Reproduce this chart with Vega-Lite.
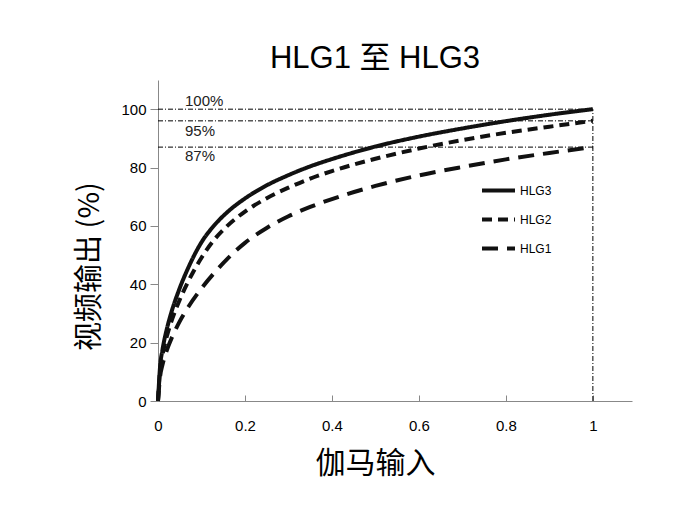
{
  "$schema": "https://vega.github.io/schema/vega-lite/v6.json",
  "autosize": {"type": "none"},
  "padding": {"left": 158, "top": 80, "right": 58, "bottom": 107},
  "width": 474,
  "height": 321,
  "background": "white",
  "title": {
    "text": "HLG1 至 HLG3",
    "font": "Liberation Sans, Noto Sans CJK SC",
    "fontSize": 31,
    "fontWeight": "normal",
    "color": "#000",
    "anchor": "middle",
    "frame": "group",
    "dx": -20,
    "offset": 5
  },
  "config": {
    "view": {"stroke": null},
    "font": "Liberation Sans, Noto Sans CJK SC",
    "axis": {
      "grid": false,
      "domainColor": "#888",
      "tickColor": "#888",
      "labelFont": "Liberation Sans",
      "labelFontSize": 15,
      "labelColor": "#000",
      "labelFlush": false,
      "titleFont": "Noto Sans CJK SC",
      "titleFontWeight": "normal",
      "titleColor": "#000"
    }
  },
  "datasets": {
    "curves": [
      {"x": 0, "y": 0, "series": "HLG3"},
      {"x": 0.005, "y": 12.2, "series": "HLG3"},
      {"x": 0.01, "y": 17.3, "series": "HLG3"},
      {"x": 0.02, "y": 24.5, "series": "HLG3"},
      {"x": 0.03, "y": 30.0, "series": "HLG3"},
      {"x": 0.05, "y": 38.7, "series": "HLG3"},
      {"x": 0.07, "y": 45.8, "series": "HLG3"},
      {"x": 0.1, "y": 54.4, "series": "HLG3"},
      {"x": 0.13, "y": 60.3, "series": "HLG3"},
      {"x": 0.16, "y": 64.8, "series": "HLG3"},
      {"x": 0.2, "y": 69.4, "series": "HLG3"},
      {"x": 0.25, "y": 73.9, "series": "HLG3"},
      {"x": 0.3, "y": 77.4, "series": "HLG3"},
      {"x": 0.35, "y": 80.4, "series": "HLG3"},
      {"x": 0.4, "y": 82.9, "series": "HLG3"},
      {"x": 0.5, "y": 87.2, "series": "HLG3"},
      {"x": 0.6, "y": 90.6, "series": "HLG3"},
      {"x": 0.7, "y": 93.4, "series": "HLG3"},
      {"x": 0.8, "y": 95.9, "series": "HLG3"},
      {"x": 0.9, "y": 98.1, "series": "HLG3"},
      {"x": 1.0, "y": 100.0, "series": "HLG3"},
      {"x": 0, "y": 0, "series": "HLG2"},
      {"x": 0.005, "y": 11.0, "series": "HLG2"},
      {"x": 0.01, "y": 15.5, "series": "HLG2"},
      {"x": 0.02, "y": 22.0, "series": "HLG2"},
      {"x": 0.03, "y": 26.9, "series": "HLG2"},
      {"x": 0.05, "y": 34.7, "series": "HLG2"},
      {"x": 0.07, "y": 41.1, "series": "HLG2"},
      {"x": 0.1, "y": 49.1, "series": "HLG2"},
      {"x": 0.13, "y": 55.4, "series": "HLG2"},
      {"x": 0.16, "y": 60.1, "series": "HLG2"},
      {"x": 0.2, "y": 64.9, "series": "HLG2"},
      {"x": 0.25, "y": 69.5, "series": "HLG2"},
      {"x": 0.3, "y": 73.1, "series": "HLG2"},
      {"x": 0.35, "y": 76.2, "series": "HLG2"},
      {"x": 0.4, "y": 78.8, "series": "HLG2"},
      {"x": 0.5, "y": 83.0, "series": "HLG2"},
      {"x": 0.6, "y": 86.5, "series": "HLG2"},
      {"x": 0.7, "y": 89.4, "series": "HLG2"},
      {"x": 0.8, "y": 91.9, "series": "HLG2"},
      {"x": 0.9, "y": 94.0, "series": "HLG2"},
      {"x": 1.0, "y": 96.0, "series": "HLG2"},
      {"x": 0, "y": 0, "series": "HLG1"},
      {"x": 0.005, "y": 8.6, "series": "HLG1"},
      {"x": 0.01, "y": 12.2, "series": "HLG1"},
      {"x": 0.02, "y": 17.3, "series": "HLG1"},
      {"x": 0.03, "y": 21.1, "series": "HLG1"},
      {"x": 0.05, "y": 27.3, "series": "HLG1"},
      {"x": 0.07, "y": 32.3, "series": "HLG1"},
      {"x": 0.1, "y": 38.6, "series": "HLG1"},
      {"x": 0.13, "y": 44.0, "series": "HLG1"},
      {"x": 0.16, "y": 48.8, "series": "HLG1"},
      {"x": 0.2, "y": 54.2, "series": "HLG1"},
      {"x": 0.25, "y": 59.3, "series": "HLG1"},
      {"x": 0.3, "y": 63.3, "series": "HLG1"},
      {"x": 0.35, "y": 66.5, "series": "HLG1"},
      {"x": 0.4, "y": 69.2, "series": "HLG1"},
      {"x": 0.5, "y": 73.7, "series": "HLG1"},
      {"x": 0.6, "y": 77.3, "series": "HLG1"},
      {"x": 0.7, "y": 80.2, "series": "HLG1"},
      {"x": 0.8, "y": 82.8, "series": "HLG1"},
      {"x": 0.9, "y": 85.0, "series": "HLG1"},
      {"x": 1.0, "y": 87.0, "series": "HLG1"}
    ],
    "hrefs": [
      {"x": 0, "x2": 1, "y": 100},
      {"x": 0, "x2": 1, "y": 96},
      {"x": 0, "x2": 1, "y": 87}
    ],
    "vref": [
      {"x": 1, "y": 0, "y2": 100}
    ],
    "labels": [
      {"x": 0.062, "y": 102.9, "label": "100%"},
      {"x": 0.062, "y": 92.4, "label": "95%"},
      {"x": 0.062, "y": 84.0, "label": "87%"}
    ]
  },
  "encoding": {
    "x": {
      "field": "x",
      "type": "quantitative",
      "scale": {"domain": [0, 1.09], "nice": false, "zero": false},
      "axis": {
        "title": "伽马输入",
        "values": [0, 0.2, 0.4, 0.6, 0.8, 1],
        "format": "~g",
        "tickSize": -6,
        "labelPadding": 23,
        "titleX": 217,
        "titleFontSize": 30,
        "titlePadding": 15
      }
    },
    "y": {
      "field": "y",
      "type": "quantitative",
      "scale": {"domain": [0, 110], "nice": false},
      "axis": {
        "title": "视频输出 (%)",
        "values": [0, 20, 40, 60, 80, 100],
        "tickSize": 8,
        "labelPadding": 4,
        "titleY": 186,
        "titleFontSize": 29,
        "titlePadding": 16
      }
    }
  },
  "layer": [
    {
      "data": {"name": "hrefs"},
      "mark": {"type": "rule", "color": "#000", "strokeWidth": 1, "strokeDash": [5, 2, 1, 2]},
      "encoding": {"x2": {"field": "x2"}}
    },
    {
      "data": {"name": "vref"},
      "mark": {"type": "rule", "color": "#000", "strokeWidth": 1, "strokeDash": [5, 2, 1, 2]},
      "encoding": {"y2": {"field": "y2"}}
    },
    {
      "data": {"name": "curves"},
      "mark": {"type": "line", "color": "#111", "strokeWidth": 4, "interpolate": "monotone"},
      "encoding": {
        "strokeDash": {
          "field": "series",
          "type": "nominal",
          "scale": {"domain": ["HLG3", "HLG2", "HLG1"], "range": [[1, 0], [10, 6], [16, 9]]},
          "legend": {
            "title": null,
            "orient": "none",
            "legendX": 322,
            "legendY": 98,
            "padding": 0,
            "symbolType": "stroke",
            "symbolSize": 1089,
            "symbolStrokeWidth": 4,
            "symbolStrokeColor": "#111",
            "clipHeight": 25,
            "rowPadding": 4,
            "labelFont": "Liberation Sans",
            "labelFontSize": 12,
            "labelColor": "#000",
            "labelOffset": 3
          }
        }
      }
    },
    {
      "data": {"name": "labels"},
      "mark": {"type": "text", "align": "left", "baseline": "middle", "fontSize": 15, "font": "Liberation Sans", "color": "#222"},
      "encoding": {"text": {"field": "label"}}
    }
  ]
}
